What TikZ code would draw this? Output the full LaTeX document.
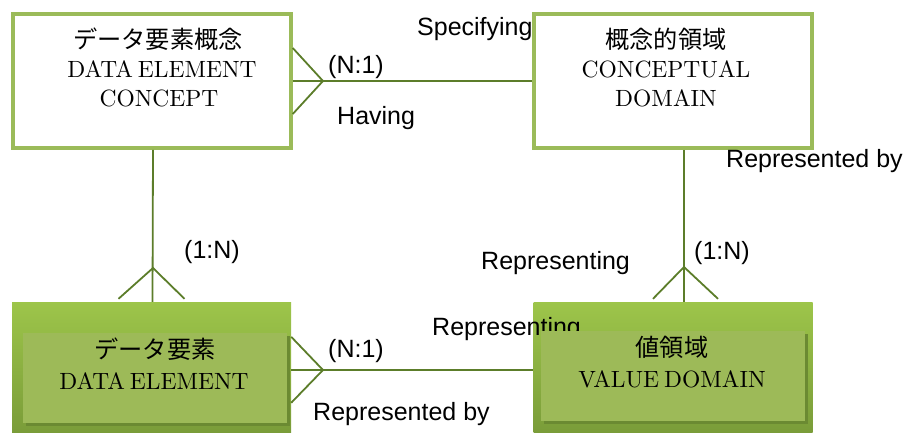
\documentclass[tikz,border=0pt]{standalone}
\usepackage{fontspec}
\usetikzlibrary{calc}
\setmainfont{lmroman10-regular.otf}
\newfontfamily\cjk{Noto Sans CJK JP}
\newfontfamily\lblfont{Liberation Sans}
\definecolor{boxgreen}{HTML}{9BBB59}
\definecolor{linegreen}{HTML}{5C7D2A}
\definecolor{topgreen}{HTML}{9DC54A}
\definecolor{botgreen}{HTML}{789A38}
\definecolor{innergreen}{HTML}{9DBA58}
\definecolor{shadowgreen}{HTML}{6B8A32}
\tikzset{
  x=1pt, y=-1pt,
  whitebox/.style={draw=boxgreen, line width=3.5pt, fill=white, minimum width=278pt, minimum height=134pt, inner sep=0pt},
  outerbox/.style={draw=none, top color=topgreen, bottom color=botgreen, minimum width=279pt, minimum height=138pt, inner sep=0pt},
  innerbox/.style={fill=innergreen, minimum width=264pt, minimum height=90pt, inner sep=0pt},
  shadowbox/.style={fill=shadowgreen, minimum width=264pt, minimum height=90pt, inner sep=0pt},
  conn/.style={draw=linegreen, line width=1.8pt},
  lbl/.style={font=\lblfont\fontsize{25}{30}\selectfont, anchor=base west, inner sep=0pt},
  jp/.style={font=\cjk\fontsize{24.2}{28}\selectfont, anchor=base, inner sep=0pt},
  en/.style={font=\fontsize{23.5}{29}\selectfont, anchor=base, inner sep=0pt}
}
\begin{document}
\begin{tikzpicture}
\useasboundingbox (0,0) rectangle (906,432);
% boxes
\node[whitebox] (dec) at (152,81) {};
\node[whitebox] (cd) at (673,81) {};
\node[outerbox] (de) at (151.5,371) {};
\node[outerbox] (vd) at (673,371) {};
% connectors
\coordinate (cf1) at (323,81);
\draw[conn] (dec.east) -- (cd.west);
\draw[conn] ([yshift=33pt]dec.east) -- (cf1) -- ([yshift=-33pt]dec.east);
\coordinate (cf2) at (153,268);
\draw[conn] ([xshift=1pt]dec.south) -- ([xshift=1pt]de.north);
\draw[conn] ([xshift=-33pt,yshift=3pt]de.north) -- (cf2) -- ([xshift=33pt,yshift=3pt]de.north);
\coordinate (cf3) at (684,267);
\draw[conn] ([xshift=11pt]cd.south) -- ([xshift=11pt]vd.north);
\draw[conn] ([xshift=-20pt,yshift=3pt]vd.north) -- (cf3) -- ([xshift=45pt,yshift=3pt]vd.north);
\coordinate (deR) at ($(de.north east)+(0,68)$);
\coordinate (vdL) at ($(vd.north west)+(0,68)$);
\coordinate (cf4) at (323,370);
\draw[conn] (deR) -- (vdL);
\draw[conn] ($(deR)+(0,-33)$) -- (cf4) -- ($(deR)+(0,33)$);
% labels
\node[lbl] (l1) at (417,35) {Specifying};
\node[lbl] (l2) at (328,73) {(N:1)};
\node[lbl] (l3) at (337,124) {Having};
\node[lbl] (l4) at (726,167) {Represented by};
\node[lbl] (l5) at (184,258) {(1:N)};
\node[lbl] (l6) at (481,269) {Representing};
\node[lbl] (l7) at (694,259) {(1:N)};
\node[lbl] (l8) at (432,335) {Representing};
\node[lbl] (l9) at (328,357) {(N:1)};
\node[lbl] (l10) at (313,420) {Represented by};
% inner boxes
\node[shadowbox] (desh) at (158,381) {};
\node[innerbox] (dein) at (155,378) {};
\node[shadowbox] (vdsh) at (676,379) {};
\node[innerbox] (vdin) at (673,376) {};
% box texts
\node[jp] (dect1) at (158,48) {データ要素概念};
\node[en] (dect2) at (162,77) {DATA\hspace{5pt}ELEMENT};
\node[en] (dect3) at (159,106) {CONCEPT};
\node[jp] (cdt1) at (666,48) {概念的領域};
\node[en] (cdt2) at (666,77) {CONCEPTUAL};
\node[en] (cdt3) at (666,106) {DOMAIN};
\node[jp] (det1) at (155,358) {データ要素};
\node[en] (det2) at (154,389) {DATA\hspace{5pt}ELEMENT};
\node[jp] (vdt1) at (672,356) {値領域};
\node[en] (vdt2) at (672,387) {VALUE\hspace{5pt}DOMAIN};
\end{tikzpicture}
\end{document}
